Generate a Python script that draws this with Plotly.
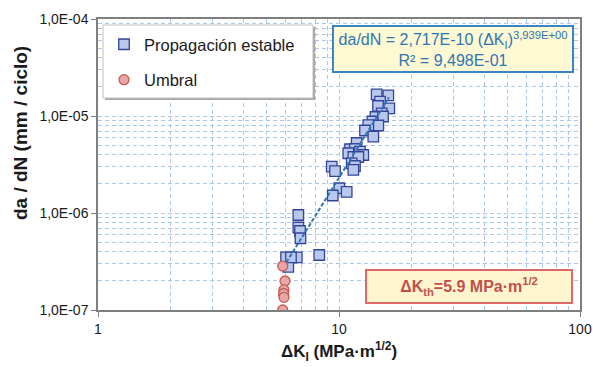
import plotly.graph_objects as go

# ---------------- data ----------------
prop_dk = [14.33, 16.02, 14.80, 14.52, 16.17, 15.04, 14.17, 15.23, 13.77, 14.56,
           13.23, 12.82, 13.88, 11.84, 11.11, 11.65, 12.22, 10.93, 12.61, 11.47,
           12.03, 11.29, 11.65, 11.47, 9.33, 9.63, 10.03, 10.76, 9.42, 8.28,
           6.78, 6.78, 6.89, 6.92, 6.03, 6.68, 6.16, 6.32]
prop_rate = [1.674e-5, 1.635e-5, 1.404e-5, 1.268e-5, 1.200e-5, 1.066e-5, 9.76e-6, 9.88e-6, 8.78e-6, 7.98e-6,
             8.07e-6, 7.09e-6, 6.12e-6, 5.27e-6, 4.54e-6, 4.57e-6, 4.29e-6, 4.13e-6, 3.96e-6, 3.78e-6,
             3.78e-6, 3.25e-6, 3.05e-6, 2.78e-6, 3.00e-6, 2.70e-6, 1.80e-6, 1.65e-6, 1.515e-6, 3.69e-7,
             9.54e-7, 7.09e-7, 6.52e-7, 5.49e-7, 3.49e-7, 3.49e-7, 2.78e-7, 3.48e-7]

umbral_dk = [5.84, 5.97, 5.91, 5.89, 5.91, 5.84]
umbral_rate = [2.84e-7, 1.99e-7, 1.61e-7, 1.48e-7, 1.35e-7, 1.0e-7]

trend_dk = [6.05, 16.1]
trend_rate = [3.1e-7, 1.55e-5]

x_tickvals = [1, 10, 100]
x_ticktext = ["1", "10", "100"]
y_tickvals = [1e-7, 1e-6, 1e-5, 1e-4]
y_ticktext = ["1,0E-07", "1,0E-06", "1,0E-05", "1,0E-04"]

series_names = ["Propagación estable", "Umbral"]
eq_text = "da/dN = 2,717E-10 (ΔK<sub>I</sub>)<sup>3,939E+00</sup><br>R² = 9,498E-01"
th_text = "<b>ΔK<sub>th</sub>=5.9 MPa·m<sup>1/2</sup></b>"
x_title = "<b>ΔK<sub>I</sub> (MPa·m<sup>1/2</sup>)</b>"
y_title = "<b>da / dN (mm / ciclo)</b>"

# ---------------- figure ----------------
FONT = "Liberation Sans, Arial, sans-serif"
GRID = "#A9C9EC"
GRID_DASH = "4px,3px"

fig = go.Figure()
fig.add_trace(go.Scatter(
    x=prop_dk, y=prop_rate, mode="markers", name=series_names[0],
    legendgroup="a",
    marker=dict(symbol="square", size=10.5, color="#B7C8EB",
                line=dict(color="#34449A", width=1.3)),
))
fig.add_trace(go.Scatter(
    x=umbral_dk, y=umbral_rate, mode="markers", name=series_names[1],
    legendgroup="b",
    marker=dict(symbol="circle", size=10, color="#E6A7A5",
                line=dict(color="#C55A57", width=1.3)),
))
fig.add_trace(go.Scatter(
    x=trend_dk, y=trend_rate, mode="lines", showlegend=False,
    line=dict(color="#2E75B6", width=2, dash="4px,2px"),
    hoverinfo="skip",
))

axis_common = dict(
    type="log", showgrid=True, gridcolor=GRID, griddash=GRID_DASH, gridwidth=1,
    showline=True, linecolor="#7F7F7F", mirror=True, zeroline=False,
    automargin=False,
    ticks="outside", ticklen=5, tickcolor="#7F7F7F",
    tickfont=dict(size=14, color="#1A1A1A", family=FONT),
    minor=dict(dtick="D1", showgrid=True, gridcolor=GRID, griddash=GRID_DASH,
               gridwidth=1, ticks=""),
)
fig.update_xaxes(**axis_common, range=[0, 2], tickmode="array",
                 tickvals=x_tickvals, ticktext=x_ticktext, linewidth=2)
fig.update_yaxes(**axis_common, range=[-7, -4], tickmode="array",
                 tickvals=y_tickvals, ticktext=y_ticktext, linewidth=1.5)

W, H = 593, 367
PLOT_L, PLOT_R, PLOT_T, PLOT_B = 98, 580, 19, 310
L, R, T, B = PLOT_L, W - PLOT_R, PLOT_T, H - PLOT_B
PW, PH = PLOT_R - PLOT_L, PLOT_B - PLOT_T


def px(xp):
    return (xp - PLOT_L) / PW


def py(yp):
    return (PLOT_B - yp) / PH


fig.update_layout(
    width=W, height=H, margin=dict(l=L, r=R, t=T, b=B, autoexpand=False),
    paper_bgcolor="white", plot_bgcolor="white",
    font=dict(family=FONT, color="#1A1A1A"),
    showlegend=True,
    legend=dict(x=px(104), xanchor="left", y=py(27), yanchor="top",
                bgcolor="rgba(0,0,0,0)", borderwidth=0,
                font=dict(size=16.5, family=FONT, color="#1A1A1A"),
                traceorder="grouped", tracegroupgap=11),
    shapes=[
        dict(type="rect", xref="paper", yref="paper", layer="above",
             x0=px(105), x1=px(315), y0=py(100), y1=py(27),
             fillcolor="#A6A6A6", line=dict(width=0)),
        dict(type="rect", xref="paper", yref="paper", layer="above",
             x0=px(103), x1=px(313), y0=py(98), y1=py(25),
             fillcolor="white", line=dict(color="#BFBFBF", width=1)),
    ],
    annotations=[
        dict(text=eq_text, xref="paper", yref="paper", x=px(453), y=py(49),
             xanchor="center", yanchor="middle", showarrow=False,
             align="center", bgcolor="#FEF9D2", bordercolor="#3A85C8",
             borderwidth=2, borderpad=1, width=236, height=42,
             font=dict(size=16, color="#2E75B6", family=FONT)),
        dict(text=th_text, xref="paper", yref="paper", x=px(469), y=py(286),
             xanchor="center", yanchor="middle", showarrow=False,
             align="center", bgcolor="#FEF5CF", bordercolor="#E06868",
             borderwidth=2, borderpad=1, width=202, height=29,
             font=dict(size=16, color="#C0504D", family=FONT)),
        dict(text=y_title, xref="paper", yref="paper", x=px(20), y=py(133),
             xanchor="center", yanchor="middle", showarrow=False,
             textangle=-90, font=dict(size=19, color="#1A1A1A", family=FONT)),
        dict(text=x_title, xref="paper", yref="paper", x=px(339), y=py(351),
             xanchor="center", yanchor="middle", showarrow=False,
             font=dict(size=17, color="#1A1A1A", family=FONT)),
    ],
)

# remove the default 8px page margin so the figure fills the window exactly
fig.write_html("out.html",
               config={"displayModeBar": False},
               post_script="document.body.style.margin='0';document.body.style.overflow='hidden';")
